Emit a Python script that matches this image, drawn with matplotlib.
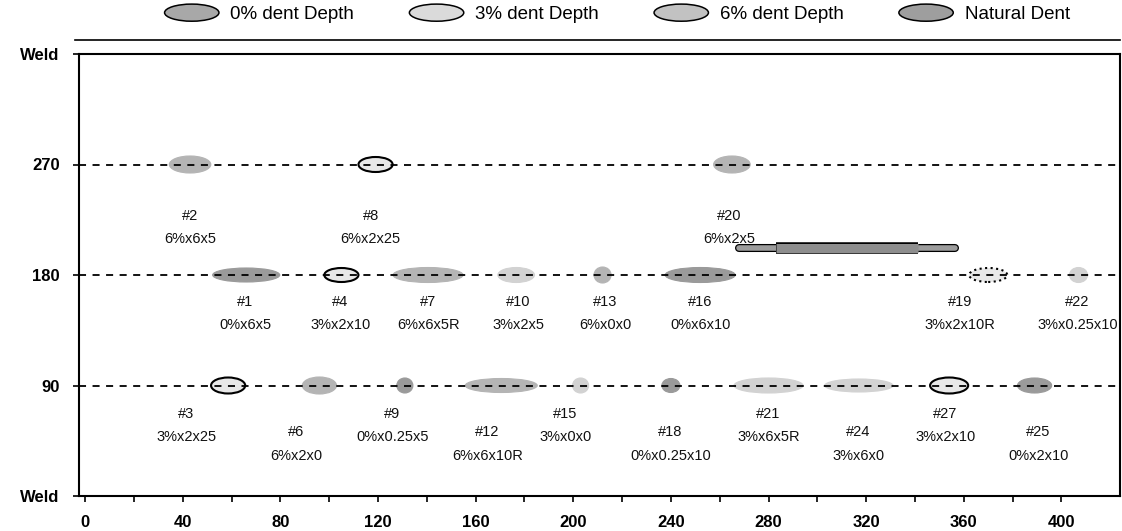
import numpy as np
import matplotlib.pyplot as plt
import matplotlib.patheffects as pe
from matplotlib.patches import Ellipse
from matplotlib.legend_handler import HandlerPatch
from matplotlib.lines import Line2D

plt.rcParams['font.family'] = ['Liberation Sans', 'DejaVu Sans']

# dent test matrix: id, spec (depth x size x ...), clock position, axial distance, length
tags = ['#2', '#8', '#20',
        '#1', '#4', '#7', '#10', '#13', '#16', '#19', '#22',
        '#3', '#6', '#9', '#12', '#15', '#18', '#21', '#24', '#27', '#25']
specs = ['6%x6x5', '6%x2x25', '6%x2x5',
         '0%x6x5', '3%x2x10', '6%x6x5R', '3%x2x5', '6%x0x0', '0%x6x10', '3%x2x10R', '3%x0.25x10',
         '3%x2x25', '6%x2x0', '0%x0.25x5', '6%x6x10R', '3%x0x0', '0%x0.25x10', '3%x6x5R',
         '3%x6x0', '3%x2x10', '0%x2x10']
clock = [270, 270, 270,
         180, 180, 180, 180, 180, 180, 180, 180,
         90, 90, 90, 90, 90, 90, 90, 90, 90, 90]
dist = [43, 119, 265,
        66, 105, 140.5, 176.6, 212, 252, 370, 407,
        58.6, 96, 131, 170.5, 203, 240, 280, 317, 354, 389]
length = [17, 14, 15,
          27.5, 14, 28.7, 15, 7, 28.7, 15.6, 7.4,
          14, 14, 6.6, 29.5, 6.6, 7.4, 28.3, 28, 15.6, 14]

# natural dent (long gouge above the 180 line)
natural_clock = 202
natural_span = [268, 356.5]
natural_core = [283, 341.4]

# label placement (x in data units, drop below row line in px)
label_x = [43, 117, 264,
           65.6, 104.5, 140.6, 177.5, 213, 252, 358.6, 406.5,
           41.4, 86.5, 125.8, 164.8, 196.7, 239.8, 280, 316.8, 352.5, 390.6]
label_drop = [44, 44, 44,
              20, 20, 20, 20, 20, 20, 20, 20,
              21, 40, 21, 40, 21, 40, 21, 40, 21, 40]
mark_h = [17, 15, 17,
          14, 14, 15, 15, 16, 15, 14, 15,
          16, 17, 15, 14, 15, 14, 15, 13, 16, 15]
outline = {'#3': '-', '#4': '-', '#8': '-', '#27': '-', '#19': ':'}

depth_color = {'0%': '#9a9a9a', '3%': '#d2d2d2', '6%': '#b4b4b4'}
natural_color = '#8e8e8e'

W, H = 1122, 531
fig = plt.figure(figsize=(W / 100, H / 100), dpi=100)
left, right, top, bottom = 79, 1120, 54, 496
ax = fig.add_axes([left / W, 1 - bottom / H, (right - left) / W, (bottom - top) / H])
ax.set_xlim(-2.5, 424)
ax.set_ylim(0, 360)
px_y = (bottom - top) / 360

for row in (90, 180, 270):
    ax.axhline(row, color='black', lw=1.3, ls=(0, (3.9, 3.6)), zorder=3)

for t, s, c, d, L, lx, dr, h in zip(tags, specs, clock, dist, length, label_x, label_drop, mark_h):
    fc = depth_color[s[:2]]
    if t in outline:
        e = Ellipse((d, c), L, h / px_y, facecolor='#e8e8e8', edgecolor='black',
                    lw=1.5, ls=outline[t], zorder=2)
    else:
        e = Ellipse((d, c), L, h / px_y, facecolor=fc, edgecolor=fc, lw=0.8, zorder=2)
    ax.add_patch(e)
    ax.annotate(f'{t}\n{s}', xy=(lx, c), xytext=(0, -dr * 0.72), textcoords='offset points',
                ha='center', va='top', fontsize=10.5, linespacing=1.85, color='#111111')

# natural dent drawn as a thin bar with a thicker core
stroke = lambda w: [pe.Stroke(linewidth=w + 1.8, foreground='black'), pe.Normal()]
ax.plot(natural_span, [natural_clock] * 2, color='#9c9c9c', lw=4.0,
        solid_capstyle='round', path_effects=stroke(4.0), zorder=2)
ax.plot(natural_core, [natural_clock] * 2, color=natural_color, lw=6.5,
        solid_capstyle='butt', path_effects=stroke(6.5), zorder=2)

ax.set_xticks(np.arange(0, 401, 40))
ax.set_xticks(np.arange(20, 401, 40), minor=True)
ax.set_yticks([0, 90, 180, 270, 360])
ax.set_yticklabels(['Weld', '90', '180', '270', 'Weld'])
ax.tick_params(axis='x', which='both', direction='out', length=4, width=1.2, pad=10,
               labelsize=12)
ax.tick_params(axis='y', direction='out', length=4, width=1.2, pad=10, labelsize=12)
for lab in ax.get_xticklabels() + ax.get_yticklabels():
    lab.set_fontweight('bold')
for sp in ax.spines.values():
    sp.set_linewidth(1.5)


class HandlerEllipse(HandlerPatch):
    def create_artists(self, legend, orig_handle, xdescent, ydescent, width, height,
                       fontsize, trans):
        center = 0.5 * width - xdescent, 0.5 * height - ydescent
        p = Ellipse(xy=center, width=width, height=height * 1.1)
        self.update_prop(p, orig_handle, legend)
        p.set_transform(trans)
        return [p]


leg_colors = ['#a8a8a8', '#dadada', '#c2c2c2', '#9e9e9e']
leg_labels = ['0% dent Depth', '3% dent Depth', '6% dent Depth', 'Natural Dent']
handles = [Ellipse((0, 0), 1, 1, facecolor=c, edgecolor='black', lw=1.1) for c in leg_colors]
fig.legend(handles, leg_labels, handler_map={Ellipse: HandlerEllipse()}, ncol=4,
           loc='center', bbox_to_anchor=(0.55, 1 - 14 / H), frameon=False, fontsize=13.5,
           handlelength=2.9, handleheight=0.9, handletextpad=0.6, columnspacing=2.95)
fig.add_artist(Line2D([75 / W, 1120 / W], [1 - 40 / H] * 2, color='black', lw=1.2))

fig.savefig('out.png', dpi=100)
